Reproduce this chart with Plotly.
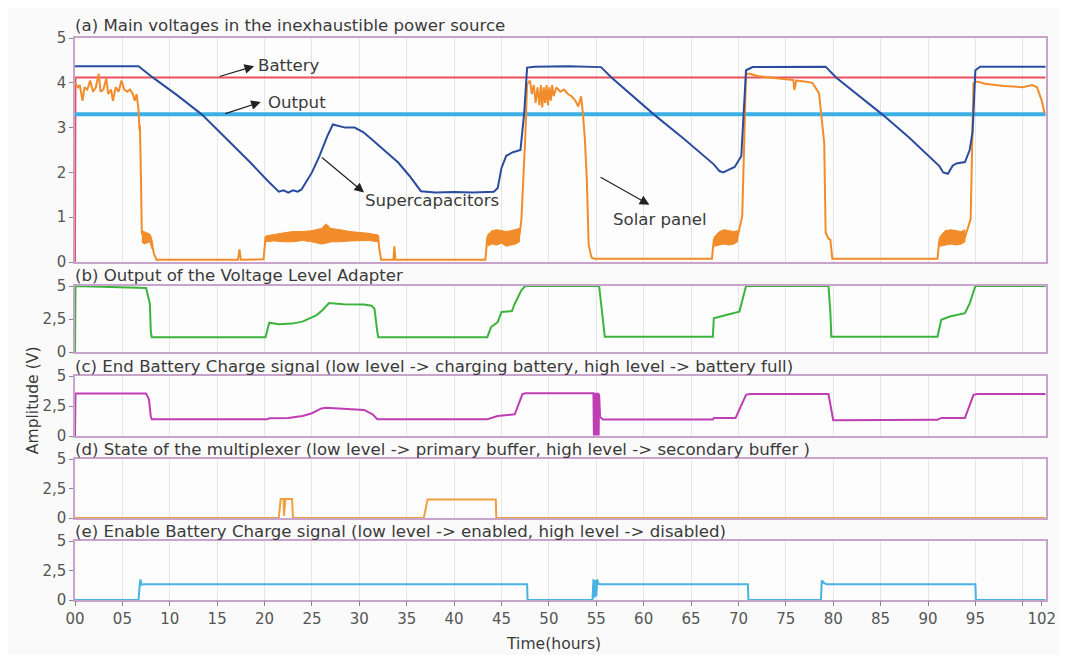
import plotly.graph_objects as go

# ---------------- data (hours, volts) ----------------
battery_t = [0, 0.05, 102.4]
battery_v = [0, 4.12, 4.12]

output_t = [0, 102.4]
output_v = [3.30, 3.30]

supercap_t = [0, 6.7, 8.2, 10.8, 13.4, 16.0, 18.5, 20.3, 21.5, 22.0, 22.5, 23.0, 23.5, 23.9,
              24.3, 25.0, 25.8, 26.6, 27.2, 27.8, 28.5, 29.5, 30.4, 31.3, 32.7, 34.1, 35.3,
              36.5, 38.0, 40.0, 42.0, 44.2, 44.6, 45.0, 45.5, 46.2, 47.0, 47.4, 47.7, 48.5,
              52.0, 55.5, 56.6, 61.1, 64.3, 67.4, 68.0, 68.4, 69.0, 69.6, 70.3, 70.6, 70.8,
              71.5, 75.0, 79.2, 80.3, 85.2, 88.0, 91.2, 91.6, 92.1, 92.6, 93.0, 93.9, 94.4,
              94.7, 95.0, 95.5, 99.0, 102.4]
supercap_v = [4.37, 4.37, 4.12, 3.72, 3.29, 2.75, 2.22, 1.82, 1.57, 1.60, 1.55, 1.60, 1.57, 1.62,
              1.77, 2.00, 2.37, 2.80, 3.07, 3.03, 3.00, 3.00, 2.90, 2.74, 2.48, 2.22, 1.92,
              1.58, 1.55, 1.56, 1.55, 1.57, 1.65, 2.10, 2.37, 2.45, 2.50, 3.34, 4.34, 4.36,
              4.37, 4.35, 4.12, 3.29, 2.74, 2.18, 2.03, 2.00, 2.06, 2.12, 2.36, 3.50, 4.28,
              4.35, 4.36, 4.36, 4.12, 3.29, 2.78, 2.14, 2.00, 1.97, 2.15, 2.20, 2.23, 2.50,
              2.90, 4.28, 4.36, 4.36, 4.36]

solar_t = [0.0, 0.3, 0.5, 0.8, 1.0, 1.3, 1.6, 1.9, 2.2, 2.5, 2.7, 3.0, 3.3, 3.5, 3.8, 4.0, 4.3,
           4.6, 4.9, 5.2, 5.5, 5.8, 6.1, 6.3, 6.5, 6.7, 6.8, 6.85, 6.95, 7.05, 7.3, 7.5, 7.7,
           7.9, 8.1, 8.3, 8.6, 17.2, 17.35, 17.5, 19.9, 20.1, 32.0, 32.1, 32.3, 33.6, 33.7,
           33.8, 43.3, 43.5, 46.9, 47.1, 47.5, 47.7, 48.0, 48.2, 48.4, 48.6, 48.8, 49.0, 49.15,
           49.3, 49.45, 49.6, 49.75, 49.9, 50.05, 50.2, 50.35, 50.5, 50.8, 51.2, 51.6, 52.0,
           52.4, 52.8, 53.1, 53.4, 53.6, 53.8, 54.0, 54.2, 54.5, 54.8, 67.2, 67.4, 69.9, 70.4,
           70.8, 71.2, 72.0, 73.0, 74.0, 75.0, 75.8, 75.9, 76.1, 77.0, 77.8, 78.5, 78.9, 79.05,
           79.2, 79.5, 79.7, 79.9, 91.0, 91.2, 93.9, 94.5, 94.8, 95.2, 96.0, 97.0, 98.0, 99.0,
           100.0, 101.0, 101.5, 102.0, 102.3]
solar_v = [4.00, 3.90, 3.95, 3.60, 3.90, 3.85, 4.05, 3.80, 3.90, 4.20, 3.80, 3.85, 4.10, 3.75,
           3.85, 3.60, 3.90, 3.80, 4.05, 3.85, 3.80, 3.85, 3.75, 3.60, 3.75, 3.40, 2.95, 3.05,
           2.00, 0.65, 0.55, 0.65, 0.50, 0.60, 0.45, 0.20, 0.05, 0.05, 0.28, 0.05, 0.06, 0.55,
           0.55, 0.30, 0.05, 0.05, 0.35, 0.05, 0.05, 0.55, 0.60, 0.95, 2.74, 3.97, 4.05, 3.75,
           3.95, 3.55, 3.90, 3.50, 3.95, 3.45, 3.90, 3.55, 3.95, 3.50, 3.90, 3.60, 3.95, 3.70,
           3.90, 3.80, 3.85, 3.75, 3.70, 3.60, 3.47, 3.70, 3.29, 2.73, 1.85, 0.37, 0.10, 0.07,
           0.07, 0.50, 0.55, 1.03, 4.20, 4.20, 4.15, 4.12, 4.10, 4.08, 4.06, 3.84, 4.05, 4.03,
           4.00, 3.77, 2.88, 2.66, 0.66, 0.52, 0.50, 0.07, 0.07, 0.50, 0.55, 0.96, 3.99, 4.03,
           3.98, 3.95, 3.93, 3.92, 3.90, 3.95, 3.90, 3.60, 3.32]

# noisy solar-panel bands: (hours, upper envelope, lower envelope)
band1_t = [7.05, 7.3, 7.6, 7.9, 8.1]
band1_hi = [0.70, 0.68, 0.65, 0.62, 0.50]
band1_lo = [0.45, 0.40, 0.42, 0.45, 0.30]
band2_t = [20.1, 21, 22, 23, 24, 25, 26, 26.5, 27, 28, 29, 30, 31, 32.0]
band2_hi = [0.58, 0.62, 0.65, 0.68, 0.68, 0.70, 0.75, 0.85, 0.75, 0.72, 0.68, 0.66, 0.64, 0.60]
band2_lo = [0.45, 0.47, 0.45, 0.45, 0.48, 0.45, 0.40, 0.42, 0.45, 0.45, 0.47, 0.48, 0.48, 0.45]
band3_t = [43.5, 44.0, 44.5, 45.0, 45.5, 46.0, 46.5, 46.9]
band3_hi = [0.60, 0.70, 0.72, 0.70, 0.68, 0.70, 0.72, 0.75]
band3_lo = [0.35, 0.40, 0.38, 0.42, 0.35, 0.38, 0.40, 0.45]
band4_t = [67.4, 68.0, 68.5, 69.0, 69.5, 69.9]
band4_hi = [0.55, 0.68, 0.72, 0.70, 0.68, 0.70]
band4_lo = [0.35, 0.38, 0.40, 0.38, 0.40, 0.45]
band5_t = [91.2, 91.8, 92.4, 93.0, 93.5, 93.9]
band5_hi = [0.55, 0.70, 0.72, 0.70, 0.68, 0.72]
band5_lo = [0.35, 0.38, 0.40, 0.38, 0.40, 0.45]

adapter_t = [0, 0.05, 7.5, 7.9, 8.0, 8.1, 20.1, 20.5, 21.5, 22.9, 24.0, 24.7, 25.5, 26.1, 26.8,
             28.3, 30.5, 31.3, 31.6, 31.9, 32.0, 43.5, 43.9, 44.6, 45.0, 46.1, 46.4, 47.1, 47.5,
             55.3, 55.7, 55.9, 67.3, 67.4, 68.7, 70.1, 70.8, 79.5, 79.7, 79.8, 91.0, 91.4, 92.3,
             93.9, 94.4, 95.0, 102.4]
adapter_v = [0, 5, 4.85, 3.66, 1.5, 1.12, 1.12, 2.22, 2.10, 2.15, 2.30, 2.53, 2.80, 3.16, 3.71,
             3.61, 3.59, 3.50, 3.28, 1.5, 1.12, 1.12, 1.89, 2.27, 3.03, 3.10, 3.66, 4.67, 5,
             5, 2.44, 1.15, 1.15, 2.56, 2.81, 3.06, 5, 5, 3.0, 1.15, 1.15, 2.44, 2.69,
             2.94, 3.68, 5, 5]

endcharge_t = [0, 0.05, 7.5, 7.8, 8.0, 8.1, 20.3, 20.5, 22.5, 24.0, 25.0, 26.0, 26.5, 28.3, 30.5,
               31.4, 31.9, 43.5, 44.6, 46.4, 47.2, 47.5, 54.7, 54.75, 54.8, 54.85, 54.9, 54.95,
               55.0, 55.05, 55.1, 55.15, 55.2, 55.25, 55.3, 55.4, 55.7, 67.3, 67.4, 69.7, 70.8,
               71.2, 79.5, 80.0, 91.0, 91.4, 93.9, 94.8, 95.2, 102.4]
endcharge_v = [0, 3.55, 3.55, 3.06, 1.6, 1.4, 1.4, 1.47, 1.50, 1.67, 1.90, 2.30, 2.36, 2.28, 2.17,
               1.81, 1.4, 1.4, 1.67, 1.81, 3.47, 3.56, 3.56, 0.05, 3.6, 0.05, 3.6, 0.05,
               3.6, 0.05, 3.6, 0.05, 3.6, 0.05, 3.5, 1.6, 1.37, 1.37, 1.51, 1.51, 3.43,
               3.5, 3.5, 1.32, 1.35, 1.51, 1.51, 3.43, 3.5, 3.5]

mux_t = [0, 21.5, 21.7, 22.0, 22.05, 22.2, 22.9, 23.0, 36.8, 37.0, 37.2, 44.4, 44.45, 102.4]
mux_v = [0, 0, 1.6, 1.6, 0.2, 1.6, 1.6, 0, 0, 0.77, 1.57, 1.57, 0, 0]

enable_t = [0, 6.7, 6.8, 6.9, 7.0, 7.3, 47.7, 47.75, 54.6, 54.7, 54.8, 54.9, 55.0, 55.1, 55.2,
            55.4, 71.0, 71.05, 78.7, 78.8, 79.0, 79.3, 95.0, 95.05, 102.4]
enable_v = [0, 0, 1.0, 1.75, 1.3, 1.33, 1.33, 0, 0, 1.75, 0.2, 1.7, 0.3, 1.75, 1.4,
            1.33, 1.33, 0, 0, 1.67, 1.45, 1.33, 1.33, 0, 0]

x_tick_vals = [0, 5, 10, 15, 20, 25, 30, 35, 40, 45, 50, 55, 60, 65, 70, 75, 80, 85, 90, 95, 100, 102]
x_tick_text = ["00", "05", "10", "15", "20", "25", "30", "35", "40", "45", "50", "55", "60",
               "65", "70", "75", "80", "85", "90", "95", "", "102"]
grid_vals = [5, 10, 15, 20, 25, 30, 35, 40, 45, 50, 55, 60, 65, 70, 75, 80, 85, 90, 95, 100]

panel_titles = [
    "(a) Main voltages in the inexhaustible power source",
    "(b) Output of the Voltage Level Adapter",
    "(c) End Battery Charge signal (low level -> charging battery, high level -> battery full)",
    "(d) State of the multiplexer (low level -> primary buffer, high level -> secondary buffer )",
    "(e) Enable Battery Charge signal (low level -> enabled, high level -> disabled)",
]

# ---------------- layout geometry ----------------
OFF = 8                      # page body margin of the browser
W, H = 1068 - OFF, 655 - OFF
PLOT_L, PLOT_R, PLOT_T, PLOT_B = 75, 1050, 38, 600   # target pixel box in the window
ML, MT = PLOT_L - OFF, PLOT_T - OFF
MR, MB = W - (PLOT_R - OFF), H - (PLOT_B - OFF)
PH = PLOT_B - PLOT_T
PW = PLOT_R - PLOT_L
panel_px = [(38, 262), (286, 352), (376, 436), (459, 518), (541, 600)]
title_shift = [1, -1, -2, -2, -2]


def frac(ypx):
    return (PLOT_B - ypx) / PH


XMAX = 102.45
FONT = "DejaVu Sans"
FRAME = "#c8a4cc"
GRID = "#e6e6e6"
TXT = "#3a3a3a"
TFS = 16.6

fig = go.Figure()

# panel a traces
fig.add_trace(go.Scatter(x=battery_t, y=battery_v, mode="lines",
                         line=dict(color="#e8505e", width=2), xaxis="x", yaxis="y"))
fig.add_trace(go.Scatter(x=output_t, y=output_v, mode="lines",
                         line=dict(color="#3cb0e4", width=4), xaxis="x", yaxis="y"))
ORANGE = "#f28c2a"
for bt, bh, bl in [(band1_t, band1_hi, band1_lo), (band2_t, band2_hi, band2_lo),
                   (band3_t, band3_hi, band3_lo), (band4_t, band4_hi, band4_lo),
                   (band5_t, band5_hi, band5_lo)]:
    fig.add_trace(go.Scatter(x=bt + bt[::-1], y=bh + bl[::-1], mode="lines", fill="toself",
                             fillcolor=ORANGE, line=dict(color=ORANGE, width=1),
                             xaxis="x", yaxis="y"))
fig.add_trace(go.Scatter(x=solar_t, y=solar_v, mode="lines",
                         line=dict(color=ORANGE, width=2), xaxis="x", yaxis="y"))
fig.add_trace(go.Scatter(x=supercap_t, y=supercap_v, mode="lines",
                         line=dict(color="#2b4c9e", width=2), xaxis="x", yaxis="y"))

# panels b-e
fig.add_trace(go.Scatter(x=adapter_t, y=adapter_v, mode="lines",
                         line=dict(color="#3cb43c", width=2), xaxis="x2", yaxis="y2"))
fig.add_trace(go.Scatter(x=endcharge_t, y=endcharge_v, mode="lines",
                         line=dict(color="#c03eb4", width=2), xaxis="x3", yaxis="y3"))
fig.add_trace(go.Scatter(x=mux_t, y=mux_v, mode="lines",
                         line=dict(color="#f0a040", width=2), xaxis="x4", yaxis="y4"))
fig.add_trace(go.Scatter(x=enable_t, y=enable_v, mode="lines",
                         line=dict(color="#48b2e2", width=2), xaxis="x5", yaxis="y5"))
# empty trace so that the labelled time axis is drawn
fig.add_trace(go.Scatter(x=[], y=[], mode="lines", xaxis="x6", yaxis="y5"))

layout = dict(
    width=W, height=H,
    margin=dict(l=ML, r=MR, t=MT, b=MB),
    paper_bgcolor="#fafafa", plot_bgcolor="#fdfdfd",
    showlegend=False,
    font=dict(family=FONT, size=15, color=TXT),
)

for i, (top, bot) in enumerate(panel_px):
    n = "" if i == 0 else str(i + 1)
    layout["xaxis" + n] = dict(
        domain=[0, 1], range=[0, XMAX], anchor="y" + n,
        tickmode="array", tickvals=grid_vals, showticklabels=False, ticks="",
        showgrid=True, gridcolor=GRID, gridwidth=1, zeroline=False,
        showline=True, mirror=True, linecolor=FRAME, linewidth=1.5,
    )
    if i == 0:
        yt = [0, 1, 2, 3, 4, 5]
        ytt = ["0", "1", "2", "3", "4", "5"]
    else:
        yt = [0, 2.5, 5]
        ytt = ["0", "2,5", "5"]
    layout["yaxis" + n] = dict(
        domain=[frac(bot), frac(top)], range=[0, 5], anchor="x" + n,
        tickmode="array", tickvals=yt, ticktext=ytt,
        ticks="outside", ticklen=4, tickcolor="#888", tickwidth=1,
        tickfont=dict(size=15, color="#555"),
        showgrid=False, zeroline=False,
        showline=True, mirror=True, linecolor=FRAME, linewidth=1.5,
    )

layout["xaxis6"] = dict(
    overlaying="x5", anchor="y5", side="bottom", range=[0, XMAX],
    tickmode="array", tickvals=x_tick_vals, ticktext=x_tick_text,
    ticks="outside", ticklen=5, tickcolor="#888", tickwidth=1,
    tickfont=dict(size=15, color="#555"),
    showgrid=False, zeroline=False, showline=False,
)

annotations = []
for i, (top, bot) in enumerate(panel_px):
    annotations.append(dict(text=panel_titles[i], xref="paper", yref="paper",
                            x=0, y=frac(top), xanchor="left", yanchor="bottom",
                            showarrow=False, yshift=title_shift[i], xshift=-2,
                            font=dict(size=TFS, color=TXT)))

annotations.append(dict(text="Amplitude (V)", xref="paper", yref="paper",
                        x=(22 - PLOT_L) / PW, y=frac(400), textangle=-90,
                        showarrow=False, font=dict(size=TFS - 1, color=TXT)))
annotations.append(dict(text="Time(hours)", xref="paper", yref="paper",
                        x=(555 - PLOT_L) / PW, y=frac(644), yanchor="middle",
                        showarrow=False, font=dict(size=TFS - 1, color=TXT)))

# labelled arrows in panel a (arrowhead at the label end)
labels = [
    ("Battery", 19.1, 4.38, 18.9, 4.37, 15.1, 4.13),
    ("Output", 20.1, 3.57, 19.6, 3.57, 15.7, 3.30),
    ("Supercapacitors", 30.4, 1.38, 30.5, 1.55, 25.9, 2.36),
    ("Solar panel", 56.6, 0.95, 60.6, 1.28, 55.3, 1.91),
]
for txt, tx, ty, hx, hy, tx0, ty0 in labels:
    annotations.append(dict(text=txt, xref="x", yref="y", x=tx, y=ty, xanchor="left",
                            showarrow=False, font=dict(size=TFS, color=TXT)))
    annotations.append(dict(text="", xref="x", yref="y", x=hx, y=hy, axref="x", ayref="y",
                            ax=tx0, ay=ty0, showarrow=True, arrowhead=2, arrowsize=1.6,
                            arrowwidth=1.2, arrowcolor="#222"))

layout["annotations"] = annotations
fig.update_layout(**layout)

fig.write_html("out.html")
